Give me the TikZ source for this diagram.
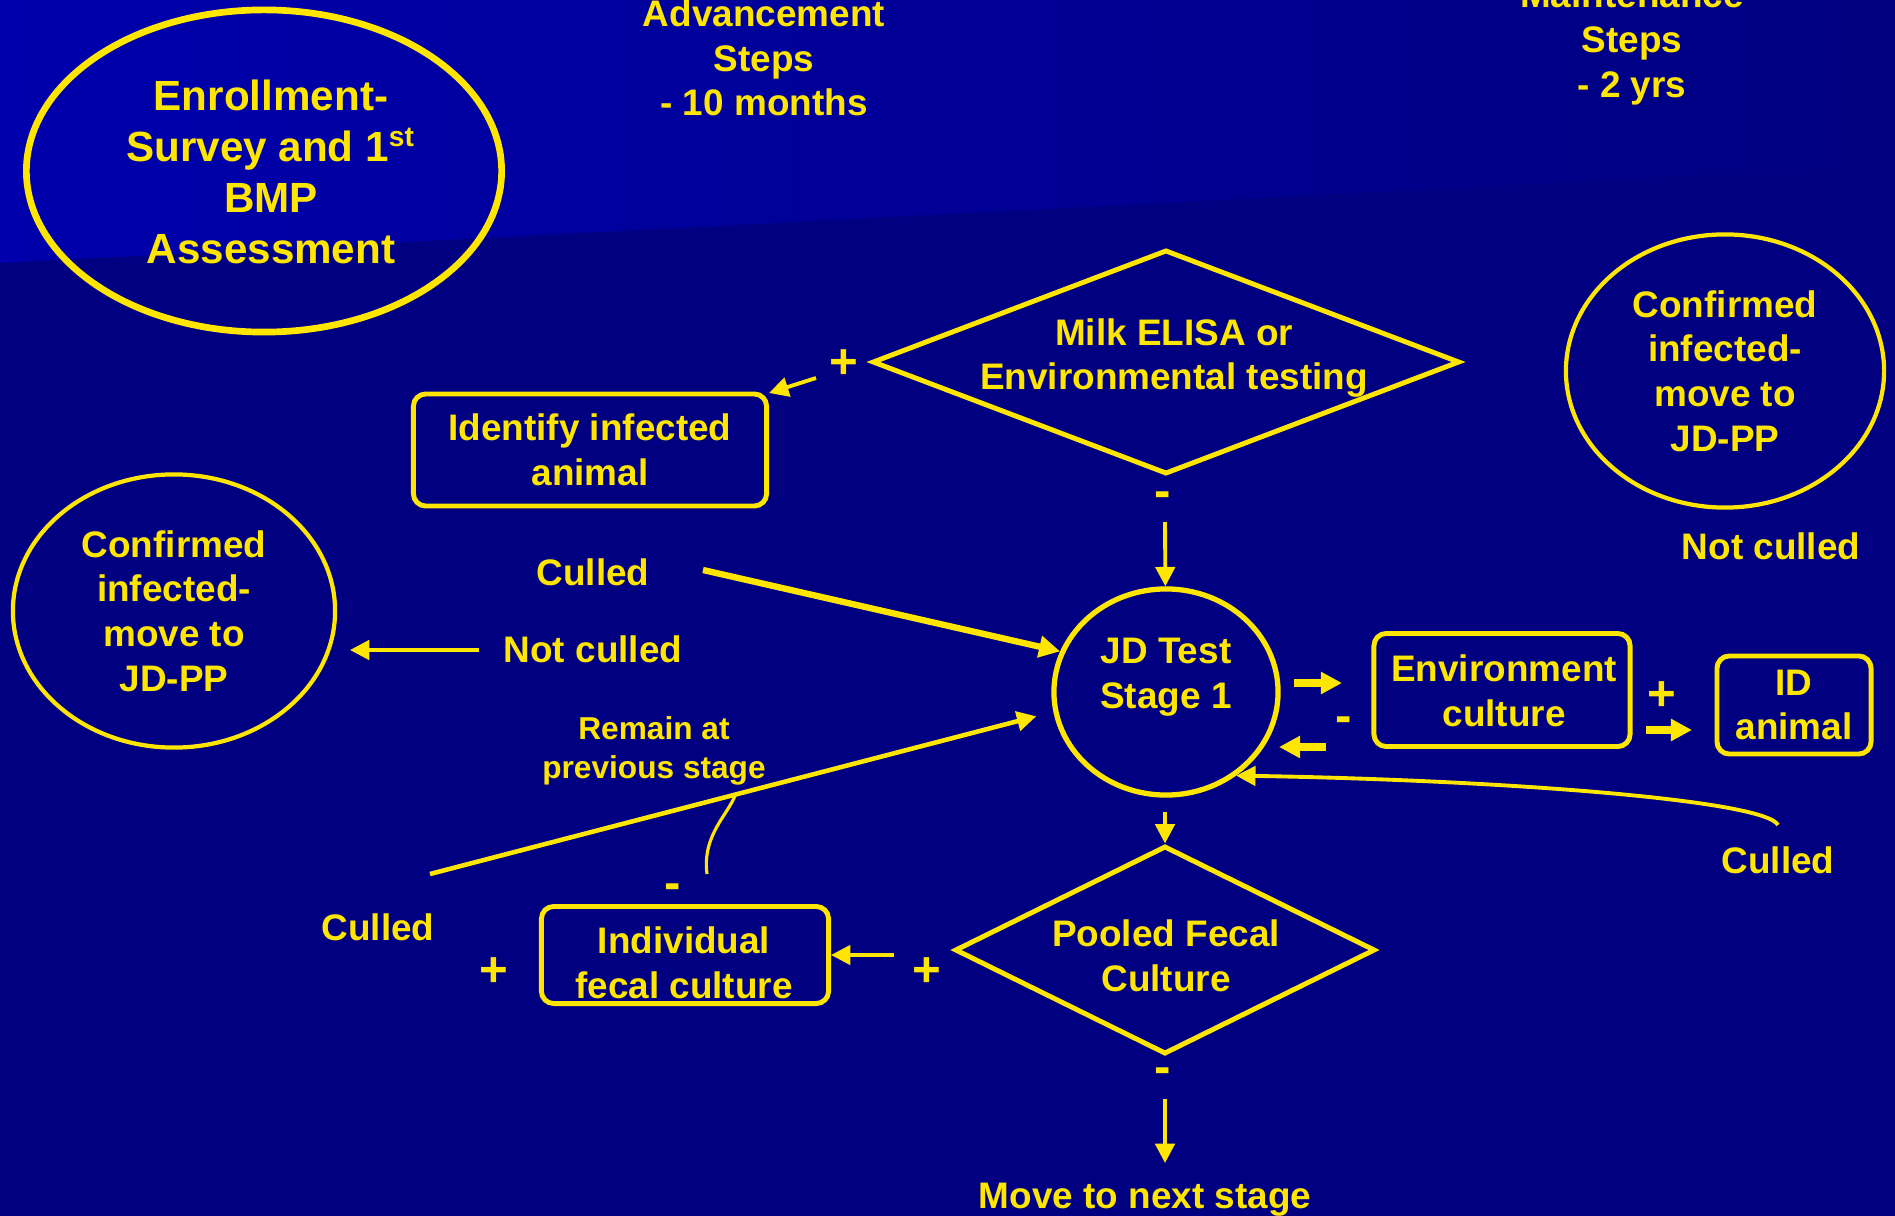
\documentclass[tikz,border=0pt]{standalone}
\usepackage{fontspec}
\setmainfont{Liberation Sans}
\usetikzlibrary{calc,shapes.geometric,arrows.meta}
\definecolor{jdyellow}{RGB}{255,230,0}
\definecolor{jdnavy}{RGB}{0,0,128}
\definecolor{jdblue}{RGB}{0,0,172}
\tikzset{
	txt/.style={text=jdyellow, align=center, inner sep=0pt, font=\fontsize{10.5}{12.7}\selectfont\bfseries},
	sgn/.style={text=jdyellow, inner sep=0pt, font=\fontsize{14}{14}\selectfont\bfseries},
	oval/.style={draw=jdyellow, line width=1.2pt, ellipse, inner sep=0pt},
	rbox/.style={draw=jdyellow, line width=1.4pt, rounded corners=3.5pt, inner sep=0pt},
	dia/.style={draw=jdyellow, line width=1.4pt, diamond, inner sep=0pt},
	arr/.style={draw=jdyellow, line width=1.1pt, -{Triangle[length=5.5pt,width=5.5pt]}},
	fatarr/.style={draw=jdyellow, line width=2.2pt, -{Triangle[length=6pt,width=6pt]}},
}
\def\sign(#1)#2#3{\node[sgn] (#2) at (#1) {#3};}

\begin{document}
\begin{tikzpicture}[x=0.01cm, y=-0.01cm]
	%%%%% START %%%%%
	\useasboundingbox (0,0) rectangle (1895,1216);
	\fill[jdnavy] (0,0) rectangle (1895,1216);
	\shade[left color=jdblue, middle color=jdblue!75!jdnavy, right color=jdnavy] (0,0) -- (1895,0) -- (1895,165) -- (0,263) -- cycle;
	
	\node[oval, line width=1.9pt, minimum width=4.75cm, minimum height=3.22cm] (enroll) at (264,171) {};
	\node[txt, font=\fontsize{12}{14.5}\selectfont\bfseries] (enrolltxt) at (271,172) {Enrollment-\\Survey and 1\textsuperscript{st}\\BMP\\Assessment};
	\node[txt] (advance) at (764,58) {Advancement\\Steps\\- 10 months};
	\node[txt] (maint) at (1632,43) {Maintenance\\Steps\\- 2 yrs};
	
	\node[dia, minimum width=5.87cm, minimum height=2.24cm] (milk) at (1166,362) {};
	\node[txt] (milktxt) at (1174,358) {Milk ELISA or\\Environmental testing};
	\node[rbox, txt, minimum width=3.53cm, minimum height=1.12cm] (identify) at (590,450) {Identify infected\\animal};
	\node[oval, txt, minimum width=3.18cm, minimum height=2.73cm] (confirmR) at (1725,371) {Confirmed\\infected-\\move to\\JD-PP};
	\node[txt] (notculledR) at (1771,546) {Not culled};
	
	\node[oval, line width=1.5pt, minimum width=2.24cm, minimum height=2.06cm] (jdtest) at (1166,692) {};
	\node[txt] (jdtxt) at (1166,677) {JD Test\\Stage 1};
	\node[oval, txt, minimum width=3.22cm, minimum height=2.73cm] (confirmL) at (174,611) {Confirmed\\infected-\\move to\\JD-PP};
	\node[txt] (culledA) at (593,572) {Culled};
	\node[txt] (notculledA) at (593,649) {Not culled};
	\node[txt, font=\fontsize{9}{11}\selectfont\bfseries] (remain) at (654,751) {Remain at\\previous stage};
	
	\node[rbox, minimum width=2.56cm, minimum height=1.13cm] (env) at (1502,690) {};
	\node[txt] (envtxt) at (1504,691) {Environment\\culture};
	\node[rbox, txt, minimum width=1.54cm, minimum height=0.98cm] (idanimal) at (1794,705) {ID\\animal};
	\node[txt] (culledC) at (1778,860) {Culled};
	
	\node[dia, minimum width=4.20cm, minimum height=2.08cm] (pooled) at (1165,950) {};
	\node[txt] (pooledtxt) at (1166,956) {Pooled Fecal\\Culture};
	\node[rbox, minimum width=2.87cm, minimum height=0.97cm] (indiv) at (685,955) {};
	\node[txt] (indivtxt) at (684,963) {Individual\\fecal culture};
	\node[txt] (culledB) at (378,927) {Culled};
	\node[txt] (nextstage) at (1145,1200) {Move to next stage};
	
	\sign(844,364){plusA}{+}
	\sign(1163,500){minusA}{-}
	\sign(673,892){minusB}{-}
	\sign(494,972){plusB}{+}
	\sign(927,972){plusC}{+}
	\sign(1163,1076){minusC}{-}
	\sign(1344,725){minusD}{-}
	\sign(1662,696){plusD}{+}
	
	\coordinate (a1) at (816,378);
	\coordinate (m1) at (1165,522);
	\coordinate (m2) at (1165,812);
	\coordinate (m3) at (1165,1099);
	\coordinate (m4) at (1165,1163);
	\coordinate (c1) at (703,570);
	\coordinate (c2) at (430,874);
	\coordinate (n1) at (479,650);
	\coordinate (n2) at (350,650);
	\coordinate (p1) at (894,955);
	\coordinate (e1) at (1294,683);
	\coordinate (e2) at (1342,683);
	\coordinate (e3) at (1326,747);
	\coordinate (e4) at (1279,747);
	\coordinate (e5) at (1646,730);
	\coordinate (e6) at (1692,730);
	\coordinate (k1) at (707,874);
	\coordinate (r1) at (1778,825);
	
	\draw[arr] (a1) -- (identify);
	\draw[arr] (m1) -- (jdtest);
	\draw[fatarr, line width=1.8pt] (c1) -- (jdtest.159);
	\draw[arr] (n1) -- (n2);
	\draw[arr, line width=1.3pt, shorten >=5pt] (c2) -- coordinate[pos=0.49] (joinB) (jdtest.190);
	\draw[jdyellow, line width=0.9pt] (k1) .. controls (702,835) and (728,815) .. (joinB);
	\draw[arr] (m2) -- (pooled);
	\draw[arr] (p1) -- (indiv.east);
	\draw[arr] (m3) -- (m4);
	\draw[fatarr] (e1) -- (e2);
	\draw[fatarr] (e3) -- (e4);
	\draw[fatarr] (e5) -- (e6);
	\draw[arr] (r1) .. controls (1765,800) and (1500,780) .. (jdtest.-50);
	
	%%%%% END %%%%%
\end{tikzpicture}
\end{document}
